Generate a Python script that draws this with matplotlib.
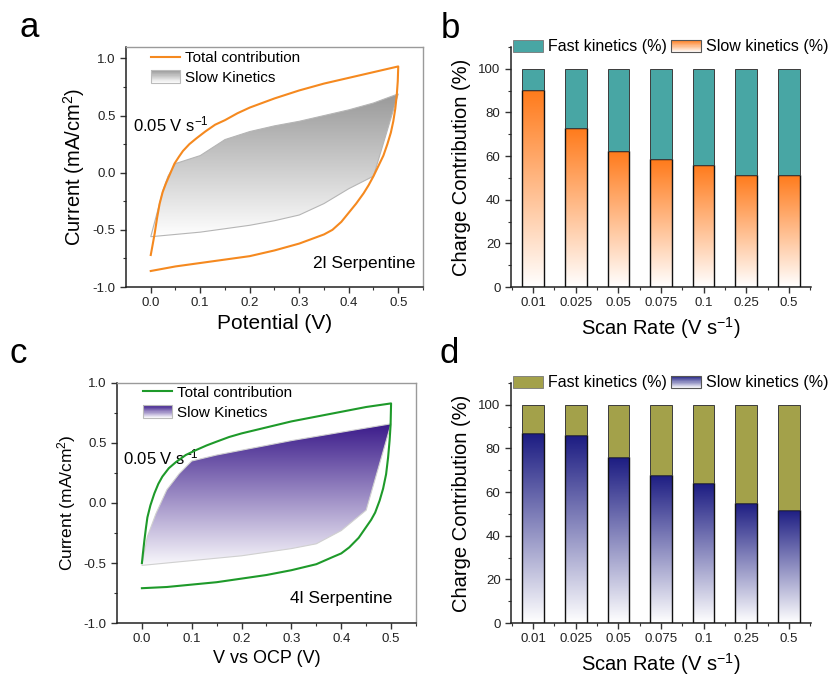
import numpy as np
import matplotlib
matplotlib.use('Agg')
import matplotlib.pyplot as plt
from matplotlib.colors import LinearSegmentedColormap
from matplotlib.patches import Rectangle, Polygon, Patch
from matplotlib.lines import Line2D
from matplotlib.legend_handler import HandlerBase
from matplotlib.ticker import MultipleLocator, FixedLocator

plt.rcParams['font.family'] = ['Liberation Sans', 'DejaVu Sans']
plt.rcParams['mathtext.default'] = 'regular'
plt.rcParams['axes.unicode_minus'] = False

# ---------------- data ----------------
scan_rates = ['0.01', '0.025', '0.05', '0.075', '0.1', '0.25', '0.5']
slow_b = [90.5, 73.0, 62.5, 58.5, 56.0, 51.5, 51.5]
fast_b = [9.5, 27.0, 37.5, 41.5, 44.0, 48.5, 48.5]
slow_d = [87.0, 86.0, 76.0, 68.0, 64.0, 55.0, 52.0]
fast_d = [13.0, 14.0, 24.0, 32.0, 36.0, 45.0, 48.0]

# panel a: total CV (2l serpentine)
a_anod_v = [0.000, 0.003, 0.008, 0.013, 0.018, 0.024, 0.031, 0.040, 0.048, 0.057, 0.065, 0.078,
            0.092, 0.110, 0.130, 0.150, 0.175, 0.200, 0.250, 0.300, 0.350, 0.400, 0.450, 0.500]
a_anod_i = [-0.72, -0.65, -0.53, -0.39, -0.27, -0.17, -0.09, 0.00, 0.08, 0.14, 0.19, 0.25,
            0.30, 0.36, 0.42, 0.46, 0.52, 0.57, 0.65, 0.72, 0.78, 0.83, 0.88, 0.93]
a_cath_v = [0.500, 0.499, 0.497, 0.494, 0.490, 0.485, 0.478, 0.470, 0.460, 0.450, 0.440, 0.430,
            0.415, 0.400, 0.385, 0.367, 0.350, 0.325, 0.300, 0.250, 0.200, 0.150, 0.100, 0.050, 0.000]
a_cath_i = [0.93, 0.80, 0.68, 0.56, 0.45, 0.35, 0.25, 0.15, 0.06, -0.03, -0.11, -0.18,
            -0.27, -0.35, -0.43, -0.50, -0.54, -0.58, -0.62, -0.68, -0.73, -0.76, -0.79, -0.82, -0.86]
# panel a: slow kinetics region
a_slow_up_v = [0.000, 0.011, 0.025, 0.035, 0.050, 0.100, 0.150, 0.200, 0.250, 0.300, 0.350, 0.400, 0.450, 0.500]
a_slow_up_i = [-0.56, -0.38, -0.15, -0.03, 0.08, 0.15, 0.29, 0.36, 0.41, 0.45, 0.50, 0.55, 0.61, 0.69]
a_slow_lo_v = [0.500, 0.450, 0.400, 0.350, 0.300, 0.250, 0.200, 0.150, 0.100, 0.050, 0.000]
a_slow_lo_i = [0.69, -0.03, -0.14, -0.27, -0.37, -0.42, -0.46, -0.49, -0.52, -0.54, -0.56]

# panel c: total CV (4l serpentine)
c_anod_v = [0.000, 0.002, 0.005, 0.008, 0.011, 0.017, 0.025, 0.033, 0.041, 0.054, 0.068, 0.088,
            0.108, 0.130, 0.149, 0.175, 0.200, 0.250, 0.300, 0.350, 0.400, 0.450, 0.500]
c_anod_i = [-0.50, -0.42, -0.31, -0.21, -0.12, -0.02, 0.08, 0.16, 0.22, 0.29, 0.34, 0.40,
            0.44, 0.48, 0.51, 0.55, 0.58, 0.63, 0.68, 0.72, 0.76, 0.80, 0.83]
c_cath_v = [0.500, 0.499, 0.497, 0.494, 0.490, 0.484, 0.477, 0.468, 0.460, 0.450, 0.435, 0.416,
            0.400, 0.383, 0.350, 0.300, 0.250, 0.200, 0.150, 0.100, 0.050, 0.000]
c_cath_i = [0.83, 0.65, 0.52, 0.38, 0.24, 0.12, 0.02, -0.08, -0.14, -0.20, -0.29, -0.37,
            -0.42, -0.45, -0.51, -0.56, -0.60, -0.63, -0.66, -0.68, -0.70, -0.71]
c_slow_up_v = [0.000, 0.011, 0.028, 0.050, 0.075, 0.100, 0.150, 0.200, 0.250, 0.300, 0.350, 0.400, 0.450, 0.500]
c_slow_up_i = [-0.51, -0.28, -0.09, 0.11, 0.245, 0.35, 0.40, 0.44, 0.48, 0.52, 0.555, 0.59, 0.625, 0.66]
c_slow_lo_v = [0.500, 0.450, 0.400, 0.350, 0.300, 0.250, 0.200, 0.150, 0.100, 0.050, 0.000]
c_slow_lo_i = [0.66, -0.06, -0.23, -0.34, -0.38, -0.41, -0.44, -0.46, -0.48, -0.50, -0.52]

# ---------------- styles ----------------
orange_line = '#F5891F'
green_line = '#1E9A2A'
teal = '#48A6A4'
olive = '#A3A14A'
cm_gray = LinearSegmentedColormap.from_list('g', ['#ffffff', '#999999'])
cm_purple = LinearSegmentedColormap.from_list('p', ['#f8f7fb', '#3A1A8A'])
cm_orange = LinearSegmentedColormap.from_list('o', ['#ffffff', '#FF7A1A'])
cm_navy = LinearSegmentedColormap.from_list('n', ['#ffffff', '#1C1C82'])

W, H = 829, 679
fig = plt.figure(figsize=(W / 100, H / 100), dpi=100)


def ax_px(l, r, t, b):
    return fig.add_axes([l / W, 1 - b / H, (r - l) / W, (b - t) / H])


class GradHandler(HandlerBase):
    def __init__(self, cmap, edge='#666666', n=24):
        super().__init__()
        self.cmap, self.edge, self.n = cmap, edge, n

    def create_artists(self, legend, orig_handle, xdescent, ydescent, width, height, fontsize, trans):
        arts = []
        for k in range(self.n):
            y0 = -ydescent + height * k / self.n
            arts.append(Rectangle((-xdescent, y0), width, height / self.n * 1.15,
                                  facecolor=self.cmap(k / (self.n - 1)), edgecolor='none',
                                  transform=trans))
        arts.append(Rectangle((-xdescent, -ydescent), width, height, facecolor='none',
                              edgecolor=self.edge, lw=0.8, transform=trans))
        return arts


def style_cv(ax):
    ax.set_xlim(-0.05, 0.55)
    ax.xaxis.set_major_locator(FixedLocator([0, 0.1, 0.2, 0.3, 0.4, 0.5]))
    ax.xaxis.set_minor_locator(FixedLocator([0.05, 0.15, 0.25, 0.35, 0.45, 0.55]))
    ax.yaxis.set_major_locator(MultipleLocator(0.5))
    ax.yaxis.set_minor_locator(MultipleLocator(0.25))
    ax.set_xticklabels(['0.0', '0.1', '0.2', '0.3', '0.4', '0.5'])
    ax.tick_params(which='both', direction='out', labelsize=9.5, color='#333333', labelcolor='#222222')
    ax.tick_params(which='major', length=4, width=1)
    ax.tick_params(which='minor', length=2.5, width=0.8)
    for s in ['left', 'bottom']:
        ax.spines[s].set_color('#222222')
        ax.spines[s].set_linewidth(1.1)
    for s in ['top', 'right']:
        ax.spines[s].set_color('#9a9a9a')
        ax.spines[s].set_linewidth(1.0)


def gradient_poly(ax, up_v, up_i, lo_v, lo_i, cmap, edge):
    xs = list(up_v) + list(lo_v)
    ys = list(up_i) + list(lo_i)
    poly = Polygon(np.column_stack([xs, ys]), closed=True, facecolor='none',
                   edgecolor=edge, lw=0.8, zorder=3)
    ax.add_patch(poly)
    grad = np.linspace(0, 1, 256).reshape(-1, 1)
    im = ax.imshow(grad, cmap=cmap, origin='lower', aspect='auto',
                   extent=[min(xs), max(xs), min(ys), max(ys)], zorder=2)
    im.set_clip_path(poly)


def cv_panel(ax, anod_v, anod_i, cath_v, cath_i, up_v, up_i, lo_v, lo_i, cmap, edge,
             lcolor, ylim, xlabel, xls, yls, note, scale_xy, legtop):
    gradient_poly(ax, up_v, up_i, lo_v, lo_i, cmap, edge)
    ax.plot(list(anod_v) + list(cath_v), list(anod_i) + list(cath_i), color=lcolor, lw=1.5, zorder=4)
    style_cv(ax)
    ax.set_ylim(*ylim)
    ax.set_xlabel(xlabel, fontsize=xls, labelpad=3)
    ax.set_ylabel('Current (mA/cm$^2$)', fontsize=yls, labelpad=4)
    ax.text(scale_xy[0], scale_xy[1], '0.05 V s$^{-1}$', fontsize=12, ha='left', va='center', zorder=1)
    ax.text(note[0], note[1], note[2], fontsize=12.5, ha='right', va='center', zorder=5)
    h_line = Line2D([], [], color=lcolor, lw=1.5)
    h_grad = Patch(facecolor='none')
    ax.legend([h_line, h_grad], ['Total contribution', 'Slow Kinetics'],
              handler_map={h_grad: GradHandler(cmap, edge='#bbbbbb')},
              loc='upper left', bbox_to_anchor=(legtop[0], legtop[1]), frameon=False,
              fontsize=11, handlelength=1.9, handleheight=0.95, handletextpad=0.35,
              labelspacing=0.3, borderpad=0, borderaxespad=0)


def bar_panel(ax, slow, fast, cmap, fcolor):
    x = np.arange(len(scan_rates))
    bslow = ax.bar(x, slow, width=0.51, facecolor='none', edgecolor='#111111', lw=1.0, zorder=3)
    grad = np.linspace(0, 1, 256).reshape(-1, 1)
    for p in bslow.patches:
        x0, y0 = p.get_x(), p.get_y()
        im = ax.imshow(grad, cmap=cmap, origin='lower', aspect='auto',
                       extent=[x0, x0 + p.get_width(), y0, y0 + p.get_height()], zorder=2)
        im.set_clip_path(p)
    ax.bar(x, fast, bottom=slow, width=0.51, color=fcolor, edgecolor='#3c3c3c', lw=0.7, zorder=3)
    ax.set_xlim(-0.52, 6.52)
    ax.set_ylim(0, 110)
    ax.set_xticks(x)
    ax.set_xticklabels(scan_rates)
    ax.xaxis.set_minor_locator(FixedLocator(np.arange(-0.5, 7.0, 1.0)))
    ax.yaxis.set_major_locator(FixedLocator([0, 20, 40, 60, 80, 100]))
    ax.yaxis.set_minor_locator(FixedLocator([10, 30, 50, 70, 90, 110]))
    ax.spines['top'].set_visible(False)
    ax.spines['right'].set_visible(False)
    for s in ['left', 'bottom']:
        ax.spines[s].set_color('#222222')
        ax.spines[s].set_linewidth(1.1)
    ax.tick_params(which='both', direction='out', labelsize=9.5, color='#333333', labelcolor='#222222')
    ax.tick_params(which='major', length=4, width=1)
    ax.tick_params(which='minor', length=2.5, width=0.8)
    ax.set_xlabel('Scan Rate (V s$^{-1}$)', fontsize=14.5, labelpad=4)
    ax.set_ylabel('Charge Contribution (%)', fontsize=14.5, labelpad=5)
    h_fast = Patch(facecolor=fcolor, edgecolor='#777777', lw=0.6)
    h_slow = Patch(facecolor='none')
    ax.legend([h_fast, h_slow], ['Fast kinetics (%)', 'Slow kinetics (%)'],
              handler_map={h_slow: GradHandler(cmap, edge='#555555')},
              loc='center', bbox_to_anchor=(0.533, 1.0), ncol=2, frameon=False,
              fontsize=11.5, handlelength=1.9, handleheight=0.85, handletextpad=0.3,
              columnspacing=0.25, borderpad=0, borderaxespad=0)


# panel a
axa = ax_px(126, 423, 47, 287)
cv_panel(axa, a_anod_v, a_anod_i, a_cath_v, a_cath_i, a_slow_up_v, a_slow_up_i, a_slow_lo_v, a_slow_lo_i,
         cm_gray, '#b5b5b5', orange_line, (-1.0, 1.1), 'Potential (V)', 15, 14.5,
         (0.534, -0.79, '2l Serpentine'), (-0.036, 0.42), (0.084, 0.985))

# panel b
axb = ax_px(511, 811, 47, 287)
bar_panel(axb, slow_b, fast_b, cm_orange, teal)

# panel c
axc = ax_px(117, 416, 383, 623)
cv_panel(axc, c_anod_v, c_anod_i, c_cath_v, c_cath_i, c_slow_up_v, c_slow_up_i, c_slow_lo_v, c_slow_lo_i,
         cm_purple, '#d0d0d0', green_line, (-1.0, 1.0), 'V vs OCP (V)', 13, 12.5,
         (0.503, -0.80, '4l Serpentine'), (-0.038, 0.38), (0.087, 0.99))

# panel d
axd = ax_px(511, 811, 383, 623)
bar_panel(axd, slow_d, fast_d, cm_navy, olive)

# panel letters
for lab, x, y in [('a', 20, 37), ('b', 441, 38), ('c', 10, 363), ('d', 440, 363)]:
    fig.text(x / W, 1 - y / H, lab, fontsize=25, ha='left', va='baseline')

fig.savefig('out.png', dpi=100)
